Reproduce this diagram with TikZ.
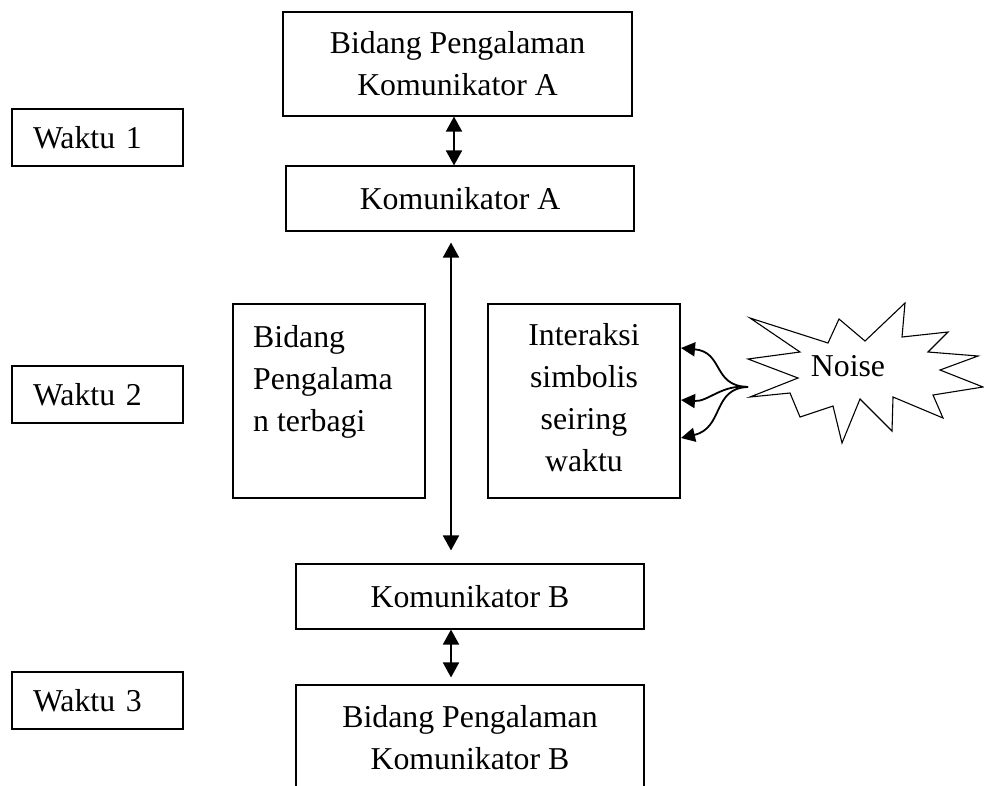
\documentclass[tikz,border=0pt]{standalone}
\usepackage{fontspec}
\setmainfont{Liberation Serif}
\usetikzlibrary{arrows.meta}
\begin{document}
\begin{tikzpicture}[x=1pt,y=-1pt,
  txt/.style={font=\fontsize{31.8}{42}\selectfont},
  box/.style={draw,line width=1.1pt,inner sep=0pt,txt,align=center},
  wbox/.style={draw,line width=1.1pt,inner ysep=0pt,inner xsep=21pt,text width=129pt,minimum width=171pt,minimum height=57pt,align=left,txt},
  dbl/.style={{Triangle[length=15pt,width=16pt]}-{Triangle[length=15pt,width=16pt]},line width=1.8pt},
  narr/.style={-{Triangle[length=14pt,width=14pt]},line width=1.8pt}]
\useasboundingbox (0,0) rectangle (984,785);
\clip (0,0) rectangle (984,785);
% main column
\node[box,minimum width=349pt,minimum height=104pt] (topA) at (457.5,64) {Bidang Pengalaman\\Komunikator A};
\node[box,minimum width=348pt,minimum height=65pt] (kA) at (460,198.5) {Komunikator A};
\node[box,minimum width=348pt,minimum height=65pt] (kB) at (470,596.5) {Komunikator B};
\node[box,minimum width=348pt,minimum height=105pt] (botB) at (470,737.5) {Bidang Pengalaman\\Komunikator B};
% time labels
\node[wbox] (w1) at (97.5,137.5) {Waktu 1};
\node[wbox] (w2) at (97.5,394.5) {Waktu 2};
\node[wbox] (w3) at (97.5,700.5) {Waktu 3};
% middle boxes
\node[draw,line width=1.1pt,minimum width=192pt,minimum height=194pt,inner sep=0pt] (lbox) at (329,401) {};
\node[txt,align=left,anchor=north west,inner sep=0pt] (ltext) at (253,325.5) {Bidang\\Pengalama\\n terbagi};
\node[draw,line width=1.1pt,minimum width=192pt,minimum height=194pt,inner sep=0pt] (ibox) at (584,401) {};
\node[txt,align=center,anchor=north,inner sep=0pt] (itext) at (584,323.5) {Interaksi\\simbolis\\seiring\\waktu};
% axes
\coordinate (ax1) at (454,0);
\coordinate (ax2) at (451,0);
\coordinate (ax3) at (451,0);
\draw[dbl] (topA.south -| ax1) -- (kA.north -| ax1);
\draw[dbl,shorten <=11pt,shorten >=13pt] (kA.south -| ax2) -- (kB.north -| ax2);
\draw[dbl,shorten >=7pt] (kB.south -| ax3) -- (botB.north -| ax3);
% noise
\draw[line width=1.1pt,fill=white] (750,318) -- (828,343) -- (839,319) -- (865,341) -- (905,303) -- (902,337)
  -- (948,332) -- (928,352) -- (978,356) -- (940,370) -- (983,387) -- (933,395) -- (943,418)
  -- (893,397) -- (892,431) -- (860,399) -- (842,443) -- (833,406) -- (800,417) -- (790,393)
  -- (750,397) -- (798,378) -- (748,359) -- (800,352) -- cycle;
\node[txt,inner sep=0pt] (noise) at (848,366) {Noise};
\coordinate (src) at (748,387);
\coordinate (t1) at (681,348);
\coordinate (t2) at (681,400);
\coordinate (t3) at (681,438);
\draw[narr] (src) .. controls (712,386) and (724,352) .. (t1);
\draw[narr] (src) .. controls (722,384) and (708,402) .. (t2);
\draw[narr] (src) .. controls (712,388) and (724,428) .. (t3);
\end{tikzpicture}
\end{document}
